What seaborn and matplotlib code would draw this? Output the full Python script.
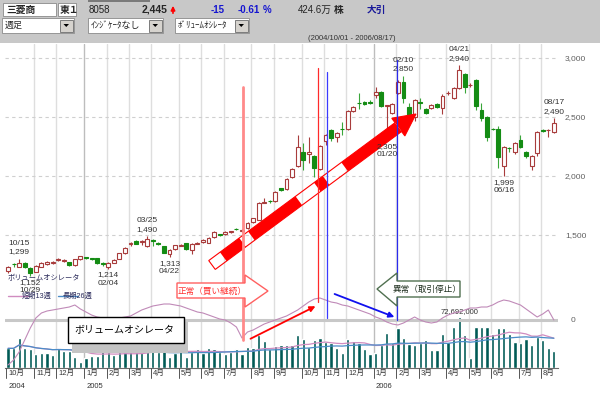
import numpy as np
import pandas as pd
import seaborn as sns
import matplotlib.pyplot as plt
from matplotlib.patches import Rectangle, Polygon, FancyArrowPatch
from matplotlib.lines import Line2D
from matplotlib.transforms import blended_transform_factory

sns.set_style("white")
plt.rcParams['font.family'] = ['Liberation Sans', 'Noto Sans CJK JP', 'DejaVu Sans']

# 三菱商事 8058 週足 (2004/10/01 - 2006/08/17)
weeks = pd.date_range("2004-10-01", periods=99, freq="7D")
opens = [1198, 1255, 1232, 1260, 1218, 1190, 1232, 1255, 1262, 1288,
         1282, 1268, 1246, 1294, 1310, 1305, 1303, 1262, 1225, 1266,
         1300, 1345, 1420, 1452, 1438, 1410, 1455, 1430, 1405, 1335,
         1378, 1410, 1430, 1373, 1425, 1440, 1432, 1483, 1505, 1505,
         1525, 1552, 1535, 1559, 1610, 1630, 1775, 1790, 1788, 1895,
         1890, 1992, 2085, 2203, 2190, 2170, 2060, 2297, 2390, 2330,
         2400, 2398, 2551, 2622, 2627, 2630, 2686, 2712, 2590, 2534,
         2703, 2797, 2585, 2500, 2630, 2568, 2576, 2610, 2576, 2700,
         2661, 2746, 2864, 2768, 2814, 2559, 2500, 2398, 2398, 2085,
         2240, 2203, 2305, 2203, 2085, 2195, 2384, 2388, 2373]
highs = [1240, 1262, 1299, 1268, 1225, 1245, 1272, 1280, 1283, 1305,
         1296, 1272, 1298, 1325, 1315, 1308, 1306, 1270, 1268, 1298,
         1350, 1395, 1440, 1460, 1455, 1490, 1462, 1440, 1410, 1380,
         1418, 1420, 1435, 1430, 1440, 1462, 1480, 1530, 1512, 1532,
         1538, 1558, 1548, 1608, 1645, 1778, 1815, 1798, 1870, 1902,
         1982, 2066, 2350, 2280, 2330, 2180, 2262, 2355, 2398, 2372,
         2460, 2558, 2592, 2700, 2635, 2640, 2750, 2718, 2602, 2618,
         2810, 2850, 2620, 2650, 2660, 2575, 2610, 2615, 2695, 2720,
         2752, 2940, 2872, 2785, 2820, 2620, 2510, 2405, 2420, 2252,
         2248, 2286, 2345, 2215, 2178, 2380, 2400, 2398, 2490]
lows = [1175, 1232, 1225, 1222, 1152, 1185, 1225, 1248, 1255, 1280,
        1272, 1240, 1240, 1290, 1300, 1290, 1255, 1238, 1214, 1260,
        1295, 1340, 1405, 1420, 1412, 1400, 1405, 1415, 1345, 1313,
        1372, 1405, 1375, 1339, 1420, 1435, 1428, 1478, 1495, 1500,
        1518, 1540, 1528, 1552, 1605, 1625, 1770, 1775, 1782, 1875,
        1885, 1985, 2080, 2050, 2110, 1990, 2050, 2260, 2300, 2290,
        2350, 2392, 2545, 2570, 2600, 2612, 2660, 2588, 2305, 2528,
        2695, 2620, 2492, 2470, 2570, 2525, 2570, 2578, 2525, 2690,
        2655, 2740, 2700, 2755, 2560, 2470, 2300, 2390, 2068, 1999,
        2205, 2190, 2240, 2150, 2050, 2170, 2375, 2330, 2365]
closes = [1232, 1250, 1266, 1232, 1180, 1238, 1266, 1274, 1275, 1295,
          1288, 1248, 1294, 1318, 1306, 1300, 1260, 1252, 1262, 1292,
          1345, 1390, 1428, 1425, 1445, 1470, 1450, 1425, 1350, 1370,
          1412, 1415, 1381, 1424, 1432, 1455, 1475, 1525, 1500, 1525,
          1530, 1548, 1540, 1602, 1640, 1771, 1780, 1785, 1864, 1885,
          1975, 2060, 2245, 2136, 2200, 2070, 2254, 2347, 2322, 2364,
          2395, 2551, 2585, 2615, 2610, 2622, 2712, 2593, 2598, 2610,
          2797, 2661, 2500, 2644, 2622, 2534, 2602, 2585, 2678, 2706,
          2746, 2898, 2754, 2774, 2593, 2492, 2330, 2395, 2161, 2245,
          2234, 2280, 2245, 2170, 2170, 2373, 2381, 2392, 2445]
# 出来高（百万株）
volume = [28.0, 28.0, 42.3, 28.0, 26.6, 20.0, 21.9, 21.9, 18.5, 28.0,
          24.7, 24.7, 15.2, 9.0, 13.8, 17.1, 17.1, 25.6, 23.3, 18.5,
          23.3, 25.6, 25.6, 25.6, 26.6, 26.6, 25.6, 23.3, 24.7, 16.2,
          21.9, 28.0, 15.2, 23.3, 26.6, 21.9, 28.0, 26.6, 23.3, 20.0,
          23.3, 26.6, 20.0, 29.4, 28.0, 47.0, 38.9, 26.6, 31.4, 32.8,
          32.8, 32.8, 47.0, 40.8, 30.4, 39.9, 42.3, 37.5, 35.2, 28.0,
          20.9, 40.8, 38.9, 36.1, 26.6, 19.5, 20.9, 32.8, 50.3, 35.2,
          56.5, 42.3, 34.2, 32.8, 35.2, 39.9, 25.6, 25.6, 48.5, 37.5,
          58.9, 72.692, 47.0, 13.8, 58.0, 58.0, 58.0, 48.5, 56.5, 56.5,
          48.5, 37.5, 35.2, 40.8, 32.8, 44.7, 39.9, 28.0, 24.7]
# ボリュームオシレータ
vol_osc = [-45, -40, -32, -20, -8, 2, 7, 9, 10, 11,
           12, 13, 15, 11, 8, 5, 3, 2, 2, 2,
           2, 3, 4, 7, 10, 12, 14, 15, 16, 16,
           15, 14, 12, 10, 8, 7, 5, 3, 1, 0,
           -3, -7, -18, -12, -10, -7, -4, -2, 0, 2,
           4, 7, 10, 14, 18, 21, 22, 20, 18, 17,
           15, 14, 12, 10, 8, 6, 3, 1, -2, -4,
           -5, -3, 0, 3, 0, -2, -3, -2, 2, 5,
           7, 8, 10, 12, 12, 13, 13, 15, 18, 20,
           19, 17, 15, 11, 7, 3, 6, 10, 0]

hi_marks = [(2, '10/15'), (25, '03/25'), (71, '02/10'), (81, '04/21'), (98, '08/17')]
lo_marks = [(4, '10/29'), (18, '02/04'), (29, '04/22'), (68, '01/20'), (89, '06/16')]

df = pd.DataFrame({'week': np.arange(len(weeks)), 'open': opens, 'high': highs,
                   'low': lows, 'close': closes, 'volume': volume, 'osc': vol_osc})
df['ma13'] = df['volume'].rolling(13, min_periods=1).mean()
df['ma26'] = df['volume'].rolling(26, min_periods=1).mean()

W, H = 600, 396
fig = plt.figure(figsize=(W / 100, H / 100), dpi=100)
fig.patch.set_facecolor('white')


def P(x, y):
    return x / W, 1 - y / H


def rect(x0, y0, x1, y1, **kw):
    r = Rectangle(P(x0, y1), (x1 - x0) / W, (y1 - y0) / H, transform=fig.transFigure, **kw)
    fig.add_artist(r)


def poly(pts, target=None, **kw):
    p = Polygon([P(x, y) for x, y in pts], closed=True, transform=fig.transFigure, **kw)
    if target is None:
        fig.add_artist(p)
    else:
        p.set_clip_on(False)
        target.add_patch(p)


def label(x, y, s, **kw):
    fig.text(*P(x, y), s, **kw)


# ---- ヘッダー ----
rect(0, 0, 600, 43, facecolor='#c8c8c8', edgecolor='none', zorder=1)
rect(88, 0, 150, 2, facecolor='#7a7a7a', edgecolor='none', zorder=1)
rect(3, 3, 56, 16, facecolor='white', edgecolor='#8a8a8a', lw=0.6, zorder=1)
rect(58, 3, 76, 16, facecolor='white', edgecolor='#8a8a8a', lw=0.6, zorder=1)
hdr = dict(va='center', fontsize=7, zorder=2)
label(6, 10, '三菱商', weight='bold', **hdr)
label(60, 10, '東１', weight='bold', **hdr)
label(89, 10, '8058', color='#222222', **hdr)
label(142, 10, '2,445', weight='bold', **dict(hdr, fontsize=7.5))
fig.add_artist(FancyArrowPatch(P(173, 16), P(173, 3), transform=fig.transFigure,
                               arrowstyle='-|>', mutation_scale=6, color='red', lw=1.2))
label(211, 10, '-15', color='#1515d0', weight='bold', **hdr)
label(238, 10, '-0.61', color='#1515d0', weight='bold', **hdr)
label(263, 10, '%', color='#1515d0', weight='bold', **hdr)
label(298, 10, '424.6万', **hdr)
label(334, 10, '株', weight='bold', **hdr)
label(367, 10, '大引', color='#1a1a9a', weight='bold', **hdr)


def combo(x0, x1, text):
    rect(x0, 18, x1, 33, facecolor='white', edgecolor='#8a8a8a', lw=0.6, zorder=1)
    rect(x1 - 14, 19.5, x1 - 1.5, 31.5, facecolor='#d6d3ce', edgecolor='#6a6a6a', lw=0.6, zorder=2)
    poly([(x1 - 10.5, 24), (x1 - 5, 24), (x1 - 7.75, 27)], facecolor='black', edgecolor='none', zorder=3)
    label(x0 + 3, 25.5, text, va='center', fontsize=6.5, zorder=3)


combo(2, 74, '週足')
combo(88, 163, 'ｲﾝｼﾞｹｰﾀなし')
combo(175, 249, 'ﾎﾞﾘｭｰﾑｵｼﾚｰﾀ')
label(352, 39, '(2004/10/01 - 2006/08/17)', ha='center', va='center', fontsize=5.5, color='#333333', zorder=2)

# ---- チャート ----
ax = fig.add_axes([5 / W, 1 - 368 / H, 553 / W, 324 / H])
axv = ax.twinx()
axo = ax.twinx()
axv.set_zorder(0)
axo.set_zorder(1)
ax.set_zorder(2)
for a in (ax, axv, axo):
    a.patch.set_visible(False)
    for s in a.spines.values():
        s.set_visible(False)

# 月の区切り
mon_idx = [0] + [i for i in range(1, len(weeks)) if weeks[i].month != weeks[i - 1].month]
tr = blended_transform_factory(ax.transData, ax.transAxes)
for i in mon_idx:
    xp = i - 0.3
    if i > 0:
        axv.axvline(xp, color='#bdbdbd' if weeks[i].month == 1 else '#dedede', lw=1, zorder=0)
    ax.plot([xp, xp], [0, -0.032], transform=tr, clip_on=False, color='#555555', lw=0.7)
    ax.text(xp + 0.35, -0.006, f'{weeks[i].month}月', transform=tr, ha='left', va='top',
            fontsize=5.5, color='#333333')
    if i == 0 or weeks[i].month == 1:
        ax.text(xp + 0.35, -0.056, f'{weeks[i].year}', transform=tr, ha='left', va='center',
                fontsize=5.5, color='#333333')

# 出来高
sns.barplot(x=df['week'], y=df['volume'], ax=axv, native_scale=True, color='#005a55',
            saturation=1, width=0.58, errorbar=None, zorder=2)
sns.lineplot(x=df['week'], y=df['ma13'], ax=axv, color='#d08cc0', lw=0.9, zorder=3)
sns.lineplot(x=df['week'], y=df['ma26'], ax=axv, color='#4a8cc8', lw=0.9, zorder=3)
axv.annotate('72,692,000', xy=(81, df['volume'].max()), xytext=(0, 1.5), textcoords='offset points',
             ha='center', va='bottom', fontsize=5.5, color='#333333')

# オシレータ
axo.axhline(0, color='#c8c8c8', lw=2.2, zorder=1)
sns.lineplot(x=df['week'], y=df['osc'], ax=axo, color='#c08ab8', lw=0.8, zorder=2)

# ローソク足
up = df['close'] >= df['open']
body_lo = np.minimum(df['open'], df['close'])
body_h = np.maximum((df['close'] - df['open']).abs(), 6)
ax.vlines(df['week'], df['low'], df['high'], colors=np.where(up, '#a83c3c', '#3aa63a'), lw=0.8, zorder=2)
ax.bar(df['week'], body_h, bottom=body_lo, width=0.7, color=np.where(up, 'white', '#148c14'),
       edgecolor=np.where(up, '#a83c3c', '#148c14'), linewidth=0.8, zorder=3)

for i, d in hi_marks:
    ax.annotate(f'{d}\n{highs[i]:,}', xy=(i, highs[i]), xytext=(0, 2.5), textcoords='offset points',
                ha='center', va='bottom', fontsize=6, color='#333333', linespacing=1.3, zorder=8)
for i, d in lo_marks:
    ax.annotate(f'{lows[i]:,}\n{d}', xy=(i, lows[i]), xytext=(0, -2), textcoords='offset points',
                ha='center', va='top', fontsize=6, color='#333333', linespacing=1.3, zorder=8)

# 軸
ax.set_xlim(-0.54, 98.74)
ax.set_ylim(372.9, 3118.6)
axv.set_ylim(0, 461.8)
axo.set_ylim(-48, 276)
ax.yaxis.tick_right()
ax.set_yticks([1500, 2000, 2500, 3000])
ax.set_yticklabels([f'{v:,}' for v in [1500, 2000, 2500, 3000]])
ax.tick_params(axis='y', length=0, pad=5, labelsize=6, labelcolor='#606060')
ax.tick_params(axis='x', bottom=False, labelbottom=False)
ax.grid(axis='y', color='#cfcfcf', linestyle=(0, (3, 3)), linewidth=0.8)
ax.grid(axis='x', visible=False)
axv.set_yticks([])
axv.tick_params(axis='x', bottom=False, labelbottom=False)
axv.set_xlabel('')
axv.set_ylabel('')
axv.spines['bottom'].set_visible(True)
axv.spines['bottom'].set_color('#6a6a6a')
axo.set_yticks([0])
axo.set_yticklabels(['0'])
axo.tick_params(axis='y', length=0, pad=9, labelsize=6, labelcolor='#606060')
axo.set_xlabel('')
axo.set_ylabel('')
ax.set_xlabel('')

# ---- 注釈 ----
for xp, y0, y1, c, lw in [(243, 87, 340, '#ff8a8a', 2.0), (318, 68, 302, '#ff2a2a', 0.9),
                          (327, 72, 318, '#3a3aff', 0.9), (397, 60, 320, '#2a2aee', 0.9)]:
    fig.add_artist(Line2D([xp / W, xp / W], [1 - y0 / H, 1 - y1 / H], transform=fig.transFigure,
                          color=c, lw=lw, zorder=6))

# 太い矢印（上昇トレンド）
S = np.array([212.0, 265.0])
T = np.array([416.0, 114.0])
u = (T - S) / np.hypot(*(T - S))
n = np.array([-u[1], u[0]])
w, hw = 5.5, 11.0
tb = np.hypot(*(T - S)) - 22
for t0, t1 in [(14, 38), (49, 108), (131, 142), (165, tb)]:
    poly([S + u * t0 - n * w, S + u * t1 - n * w, S + u * t1 + n * w, S + u * t0 + n * w],
         target=ax, facecolor='red', edgecolor='none', zorder=5)
poly([S + u * tb - n * hw, T, S + u * tb + n * hw], target=ax, facecolor='red', edgecolor='none', zorder=5)
poly([S - n * w, S + u * tb - n * w, S + u * tb - n * hw, T, S + u * tb + n * hw, S + u * tb + n * w, S + n * w],
     target=ax, facecolor='none', edgecolor='red', lw=0.8, zorder=5)

fig.add_artist(FancyArrowPatch(P(248, 340), P(318, 305), transform=fig.transFigure, arrowstyle='-|>',
                               mutation_scale=8, color='red', lw=1.3, zorder=7))
fig.add_artist(FancyArrowPatch(P(332, 293), P(397, 318), transform=fig.transFigure, arrowstyle='-|>',
                               mutation_scale=8, color='#1010ee', lw=1.3, zorder=7))

poly([(177, 283), (245, 283), (245, 275), (268, 291), (245, 307), (245, 298), (177, 298)],
     facecolor='white', edgecolor='#ff6060', lw=1, zorder=6)
label(212, 291, '正常（買い継続）', ha='center', va='center', fontsize=6.2, color='#ff3030', zorder=7)
poly([(377, 289), (397, 273), (397, 281), (460, 281), (460, 297), (397, 297), (397, 306)],
     facecolor='white', edgecolor='#507050', lw=1, zorder=6)
label(427, 289, '異常（取引停止）', ha='center', va='center', fontsize=6.2, color='#203020', zorder=7)

# 凡例
label(8, 279, 'ボリュームオシレータ', va='center', fontsize=5.2, color='#2a2a5a', zorder=6)
fig.add_artist(Line2D([8 / W, 28 / W], [1 - 296 / H] * 2, transform=fig.transFigure, color='#d08cc0', lw=1, zorder=6))
label(22, 296, '短期13週', va='center', fontsize=5.2, color='#2a2a5a', zorder=7)
fig.add_artist(Line2D([58 / W, 78 / W], [1 - 296 / H] * 2, transform=fig.transFigure, color='#4a8cc8', lw=1, zorder=6))
label(63, 296, '長期26週', va='center', fontsize=5.2, color='#2a2a5a', zorder=7)

rect(72, 322, 188, 353, facecolor='#c4c4c4', edgecolor='none', zorder=5)
rect(68, 317, 184, 343, facecolor='white', edgecolor='black', lw=1, zorder=6)
label(74, 329, 'ボリュームオシレータ', va='center', fontsize=7.2, color='black', zorder=7)

fig.savefig('out.png', dpi=100)
